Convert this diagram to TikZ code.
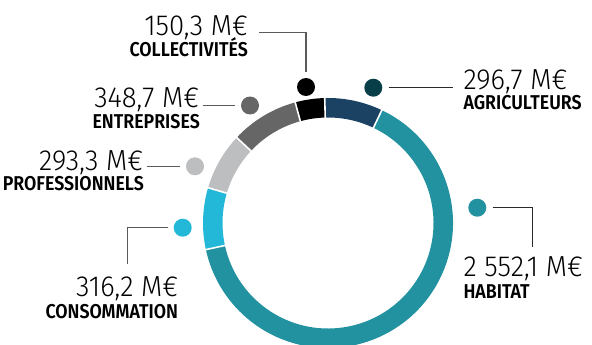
\documentclass[tikz,border=0pt]{standalone}
\usepackage{fontspec}
\usetikzlibrary{calc}
\IfFontExistsTF{Fira Sans Light}{\newfontfamily\numfont[FakeStretch=0.95]{Fira Sans Light}}{\newfontfamily\numfont[FakeStretch=0.95]{Fira Sans}}
\IfFontExistsTF{Fira Sans SemiBold}{\newfontfamily\labfont[FakeStretch=0.89]{Fira Sans SemiBold}}{\newfontfamily\labfont[FakeStretch=0.89,UprightFont=*-Bold]{Fira Sans}}
\definecolor{cnavy}{HTML}{1B4263}
\definecolor{cteal}{HTML}{2291A0}
\definecolor{cblue}{HTML}{23B8D7}
\definecolor{clgray}{HTML}{BDBEC0}
\definecolor{cdgray}{HTML}{666666}
\definecolor{cagri}{HTML}{083E47}
\definecolor{cleadg}{HTML}{5A5A5A}
\definecolor{cleadk}{HTML}{2A2A2A}
\newcommand\ringsector[3]{%
  \fill[#3] ($(c)+(-#1:125)$) arc[start angle=-#1,end angle=-#2,radius=125]
    -- ($(c)+(-#2:105.5)$) arc[start angle=-#2,end angle=-#1,radius=105.5] -- cycle;}
\newcommand\ringgap[1]{%
  \draw[white,line width=1.6pt] ($(c)+(-#1:103)$) -- ($(c)+(-#1:127)$);}
\begin{document}
\begin{tikzpicture}[x=1pt,y=-1pt,
  dot/.style={circle,inner sep=0pt,minimum size=18pt,draw=none},
  lead/.style={line width=1.2pt,shorten <=6pt},
  num/.style={inner sep=0pt,font=\numfont\fontsize{29}{32}\selectfont},
  lab/.style={inner sep=0pt,font=\labfont\fontsize{20}{22}\selectfont}]
\useasboundingbox (0,0) rectangle (592,345);
\clip (0,0) rectangle (592,345);
\coordinate (c) at (328,223);
% ring
\ringsector{91.5}{64.5}{cnavy}
\ringsector{64.5}{-167.7}{cteal}
\ringsector{-167.7}{-196.4}{cblue}
\ringsector{-196.4}{-223.1}{clgray}
\ringsector{-223.1}{-254.8}{cdgray}
\ringsector{-254.8}{-268.5}{black}
\foreach \a in {91.5,64.5,-167.7,-196.4,-223.1,-254.8}{\ringgap{\a}}
% dots
\node[dot,fill=black]  (dcoll) at (306,87) {};
\node[dot,fill=cagri]  (dagri) at (373.3,87.7) {};
\node[dot,fill=cdgray] (dent)  at (250,105.5) {};
\node[dot,fill=clgray] (dpro)  at (195,166.3) {};
\node[dot,fill=cblue]  (dcons) at (182.7,227.7) {};
\node[dot,fill=cteal]  (dhab)  at (477.3,207.7) {};
% leader ends
\coordinate (ecoll) at (259.3,32.3);
\coordinate (eagri) at (452.7,87.7);
\coordinate (eent)  at (202.7,105.5);
\coordinate (epro)  at (146.7,166.3);
\coordinate (econs) at (127.7,264);
\coordinate (ehab)  at (532.7,247.3);
\draw[lead,cleadg] (dcoll) |- (ecoll);
\draw[lead,cleadk] (dagri) -- (eagri);
\draw[lead,cleadg] (dent) -- (eent);
\draw[lead,cleadg] (dpro) -- (epro);
\draw[lead,cleadg] (dcons) -| (econs);
\draw[lead,cleadk] (dhab) -| (ehab);
% texts
\node[num,anchor=base east] (ncoll) at (248,36) {150,3 M€};
\node[lab,anchor=base east] (lcoll) at (248,57) {COLLECTIVITÉS};
\node[num,anchor=base east] (nent) at (199.3,107.3) {348,7 M€};
\node[lab,anchor=base east] (lent) at (200,128.3) {ENTREPRISES};
\node[num,anchor=base east] (npro) at (143.3,170) {293,3 M€};
\node[lab,anchor=base east] (lpro) at (144,190) {PROFESSIONNELS};
\node[num,anchor=base east] (ncons) at (178.3,296.7) {316,2 M€};
\node[lab,anchor=base east] (lcons) at (178.3,318.3) {CONSOMMATION};
\node[num,anchor=base west] (nagri) at (463.3,89.3) {296,7 M€};
\node[lab,anchor=base west] (lagri) at (463.3,110) {AGRICULTEURS};
\node[num,anchor=base west] (nhab) at (463.3,276.7) {2 552,1 M€};
\node[lab,anchor=base west] (lhab) at (463.3,298.3) {HABITAT};
\end{tikzpicture}
\end{document}
